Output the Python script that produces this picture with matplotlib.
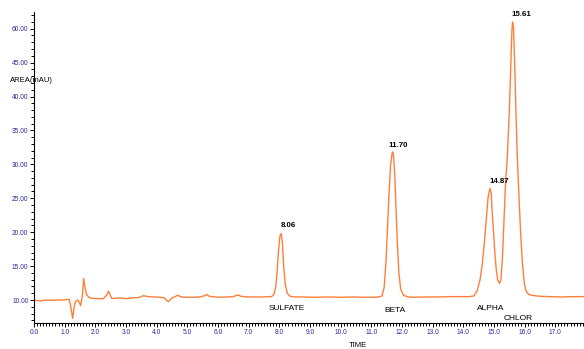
import numpy as np
import matplotlib.pyplot as plt
from matplotlib.ticker import MultipleLocator, FixedLocator, FixedFormatter

plt.rcParams['font.family'] = ['Liberation Sans', 'DejaVu Sans']

# Trace (time in min, signal in mAU)
time = [0.00, 0.10, 0.20, 0.30, 0.45, 0.60, 0.75, 0.90, 1.05, 1.15,
        1.20, 1.26, 1.32, 1.37, 1.43, 1.48, 1.52, 1.58, 1.62, 1.66,
        1.72, 1.81, 1.94, 2.10, 2.26, 2.37, 2.43, 2.48, 2.53, 2.65,
        2.80, 3.02, 3.24, 3.40, 3.57, 3.73, 3.90, 4.10, 4.25, 4.38,
        4.50, 4.60, 4.69, 4.80, 5.00, 5.20, 5.40, 5.55, 5.63, 5.72,
        5.90, 6.10, 6.30, 6.50, 6.65, 6.75, 6.95, 7.20, 7.45, 7.65,
        7.75, 7.82, 7.88, 7.92, 7.97, 8.02, 8.06, 8.10, 8.15, 8.20, 8.26,
        8.35, 8.50, 8.80, 9.20, 9.60, 10.00, 10.40, 10.80, 11.10, 11.25,
        11.35, 11.42, 11.48, 11.53, 11.58, 11.63, 11.68, 11.70, 11.73, 11.77,
        11.81, 11.85, 11.90, 11.96, 12.05, 12.20, 12.40, 12.80, 13.20, 13.60,
        14.00, 14.20, 14.35, 14.45, 14.55, 14.62, 14.69, 14.75, 14.81, 14.87,
        14.91, 14.95, 14.99, 15.04, 15.08, 15.13, 15.18, 15.23, 15.28, 15.33,
        15.38, 15.44, 15.50, 15.55, 15.59, 15.61, 15.64, 15.68, 15.72, 15.76,
        15.81, 15.87, 15.93, 15.99, 16.06, 16.15, 16.30, 16.50, 16.80, 17.20,
        17.60, 17.94]
signal = [9.90, 9.95, 9.85, 9.95, 10.00, 9.95, 10.00, 10.00, 10.05, 10.10,
          9.00, 7.30, 9.27, 9.85, 10.00, 9.61, 9.17, 10.73, 13.16, 11.94,
          10.73, 10.34, 10.24, 10.20, 10.19, 10.73, 11.31, 10.82, 10.24, 10.25,
          10.30, 10.20, 10.34, 10.35, 10.63, 10.50, 10.45, 10.40, 10.30, 9.75,
          10.30, 10.50, 10.70, 10.45, 10.40, 10.40, 10.45, 10.60, 10.80, 10.55,
          10.45, 10.40, 10.45, 10.50, 10.75, 10.55, 10.45, 10.45, 10.45, 10.50,
          10.50, 10.80, 11.80, 13.50, 17.00, 19.40, 19.82, 18.60, 14.60, 12.20, 11.00,
          10.55, 10.45, 10.45, 10.40, 10.45, 10.40, 10.45, 10.40, 10.40, 10.45,
          10.60, 11.80, 15.50, 20.60, 25.70, 29.80, 31.60, 31.84, 31.20, 28.20,
          23.60, 18.60, 14.10, 11.60, 10.70, 10.45, 10.40, 10.45, 10.45, 10.50,
          10.50, 10.50, 10.60, 11.30, 13.00, 15.20, 18.40, 21.80, 25.10, 26.45,
          25.90, 22.60, 19.80, 16.50, 14.40, 12.90, 12.46, 13.00, 16.20, 21.60,
          27.20, 31.20, 37.30, 44.40, 49.90, 50.99, 50.20, 44.90, 37.80, 31.70,
          26.20, 20.10, 15.50, 12.50, 11.20, 10.80, 10.65, 10.55, 10.50, 10.45,
          10.50, 10.50]

peak_times = [8.06, 11.70, 14.87, 15.61]
peak_heights = [19.82, 31.84, 26.45, 50.99]
compounds = ['SULFATE', 'BETA', 'ALPHA', 'CHLOR']

ytick_values = [10, 15, 20, 25, 30, 35, 40, 45, 50]
ytick_labels = ['10.00', '15.00', '20.00', '25.00', '30.00', '35.00', '40.00', '45.00', '60.00']

fig = plt.figure(figsize=(5.84, 3.49), dpi=100)
ax = fig.add_axes([34 / 584, 26 / 349, 550 / 584, 311 / 349])

ax.plot(time, signal, color='#ff7f3a', lw=1.0)

ax.set_xlim(0, 17.94)
ax.set_ylim(6.61, 52.46)

for s in ['top', 'right']:
    ax.spines[s].set_visible(False)
for s in ['left', 'bottom']:
    ax.spines[s].set_linewidth(0.8)

ax.xaxis.set_major_locator(MultipleLocator(1))
ax.xaxis.set_minor_locator(MultipleLocator(0.1))
ax.xaxis.set_major_formatter(lambda v, p: f'{v:.1f}')
ax.yaxis.set_major_locator(FixedLocator(ytick_values))
ax.yaxis.set_major_formatter(FixedFormatter(ytick_labels))
ax.yaxis.set_minor_locator(MultipleLocator(1))

ax.tick_params(axis='both', which='major', direction='out', length=3, width=0.7,
               labelsize=4.8, labelcolor='#2a2a9a', pad=1)
ax.tick_params(axis='both', which='minor', direction='out', length=2, width=0.7)

# retention time labels above the peaks
offsets = [(7, 8), (6, 6), (9, 7), (9, 7)]
for t, h, off in zip(peak_times, peak_heights, offsets):
    ax.annotate(f'{t:.2f}', xy=(t, h), xytext=off, textcoords='offset pixels',
                ha='center', va='center', fontsize=5.7, fontweight='bold')

# compound names under the peaks
name_pos = [(8.25, 8.82), (11.78, 8.38), (14.91, 8.82), (15.79, 7.20)]
for name, (x, y) in zip(compounds, name_pos):
    ax.text(x, y, name, ha='center', va='center', fontsize=6)

fig.text(10 / 584, 1 - 80 / 349, 'AREA(mAU)', ha='left', va='center', fontsize=5.5)
fig.text(358 / 584, 1 - 345.7 / 349, 'TIME', ha='center', va='center', fontsize=5.5)

fig.savefig('out.png', dpi=100)
